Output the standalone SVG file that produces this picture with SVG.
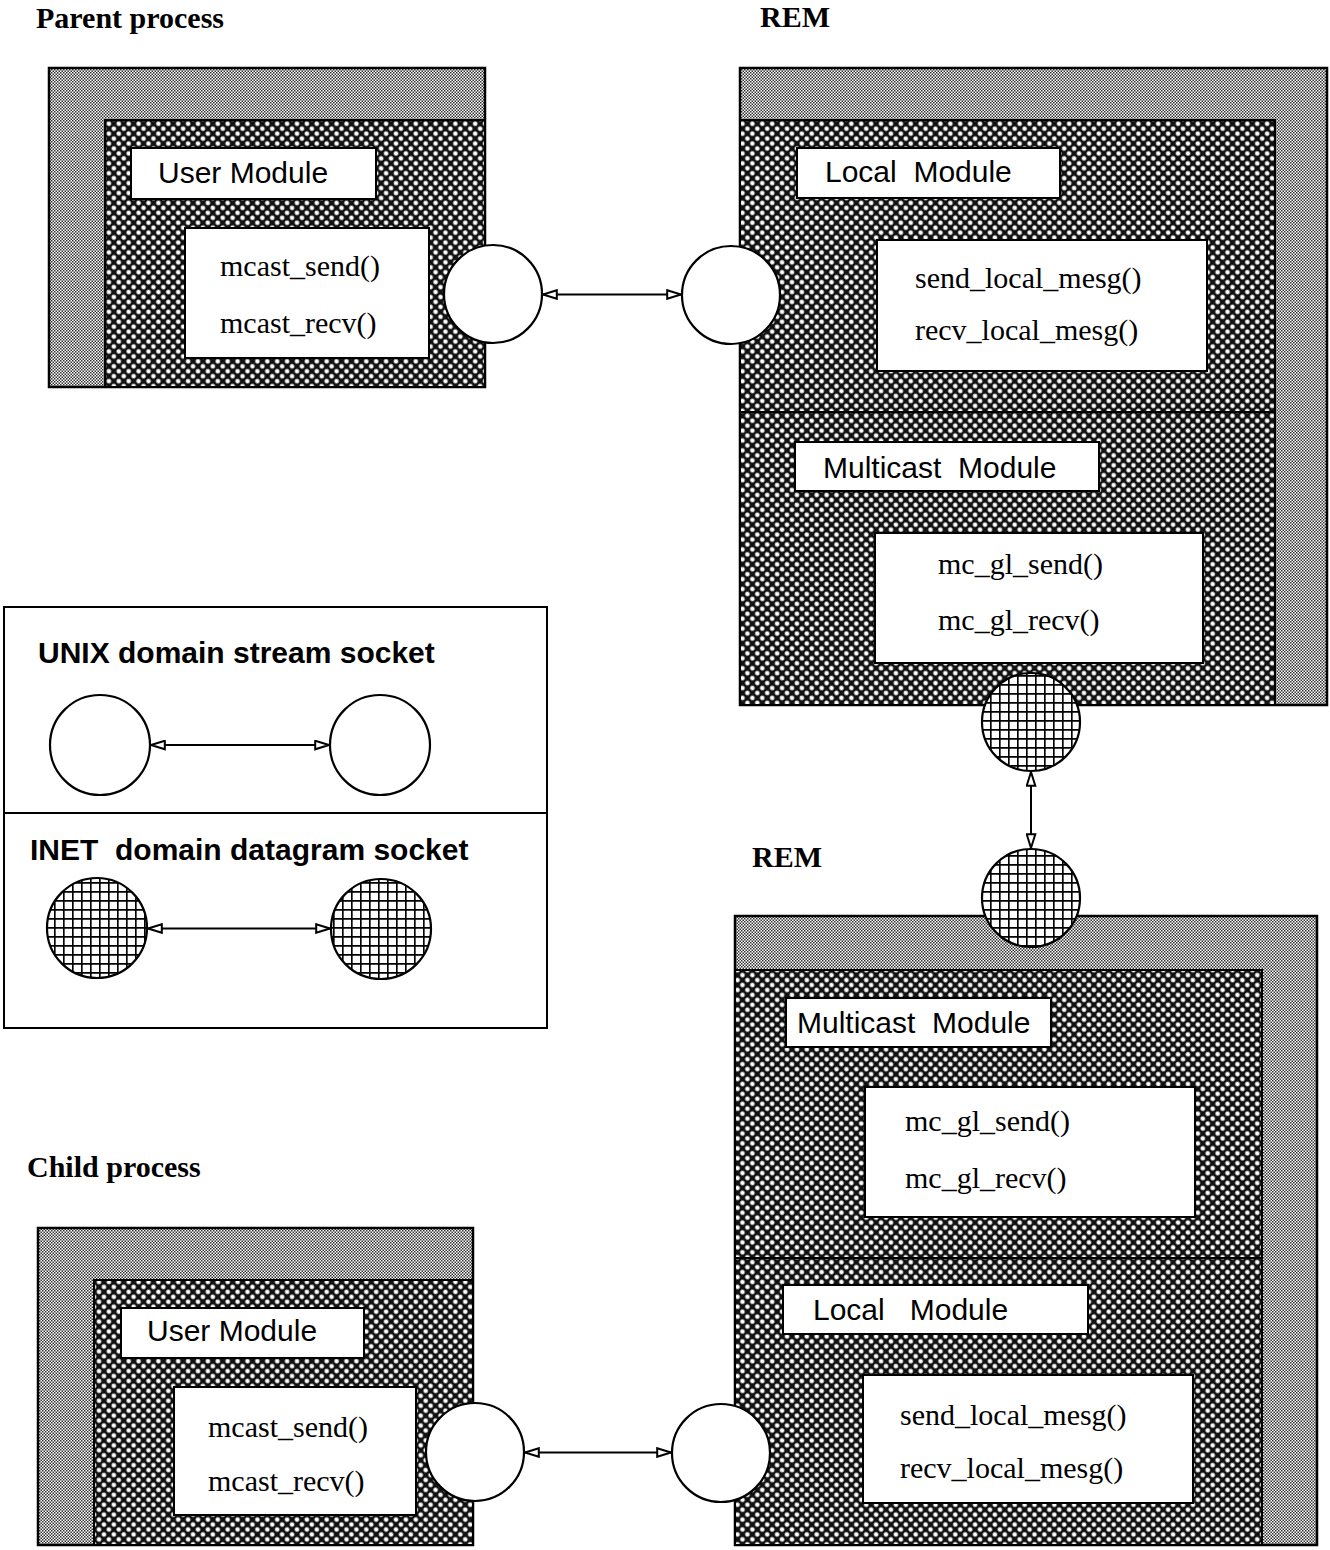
<svg xmlns="http://www.w3.org/2000/svg" width="1330" height="1550" viewBox="0 0 1330 1550">
<style>
.head{font-family:"Liberation Serif",serif;font-weight:bold;font-size:30px;fill:#000}
.lbl{font-family:"Liberation Sans",Arial,sans-serif;font-size:30px;fill:#000}
.fn{font-family:"Liberation Serif",serif;font-size:30px;fill:#000}
.leg{font-family:"Liberation Sans",Arial,sans-serif;font-weight:bold;font-size:30px;fill:#000}
.box{fill:#fff;stroke:#000;stroke-width:2}
.outer{fill:url(#stipple);stroke:#000;stroke-width:2.5}
.inner{fill:url(#cross);stroke:#000;stroke-width:2}
.sock{fill:#fff;stroke:#000;stroke-width:2.2}
.inet{fill:url(#grid);stroke:#000;stroke-width:2.2}
.conn{stroke:#000;stroke-width:2;fill:none;marker-start:url(#ah);marker-end:url(#ah)}
</style>
<defs>
<pattern id="stipple" width="3" height="3" patternUnits="userSpaceOnUse">
<rect width="3" height="3" fill="#fff"/>
<rect width="1.5" height="1.5" fill="#333"/>
<rect x="1.5" y="1.5" width="1.5" height="1.5" fill="#333"/>
</pattern>
<pattern id="cross" width="7" height="7" patternUnits="userSpaceOnUse" patternTransform="rotate(45)">
<rect width="7" height="7" fill="#111"/>
<circle cx="3.5" cy="3.5" r="2.3" fill="#fff"/>
</pattern>
<pattern id="grid" width="9" height="9" patternUnits="userSpaceOnUse">
<rect width="9" height="9" fill="#fff"/>
<path d="M0,0.8 H9 M0.8,0 V9" stroke="#000" stroke-width="1.7"/>
</pattern>
<marker id="ah" viewBox="0 0 16 11" refX="16" refY="5.5" markerWidth="16" markerHeight="11" markerUnits="userSpaceOnUse" orient="auto-start-reverse">
<path d="M1.2,1.2 L15,5.5 L1.2,9.8 Z" fill="#fff" stroke="#000" stroke-width="2"/>
</marker>
</defs>
<rect width="1330" height="1550" fill="#fff"/>

<text class="head" x="36" y="28">Parent process</text>
<text class="head" x="760" y="27">REM</text>
<text class="head" x="752" y="867">REM</text>
<text class="head" x="27" y="1177">Child process</text>

<g id="parent-process">
<rect class="outer" x="49" y="68" width="436" height="319"/>
<rect class="inner" x="105" y="120" width="380" height="267"/>
<g id="parent-user-module">
<rect class="box" x="131" y="148" width="245" height="51"/>
<text class="lbl" x="158" y="183">User Module</text>
</g>
<g id="parent-funcs">
<rect class="box" x="185" y="228" width="244" height="130"/>
<text class="fn" x="220" y="276">mcast_send()</text>
<text class="fn" x="220" y="333">mcast_recv()</text>
</g>
</g>

<g id="rem-top">
<rect class="outer" x="740" y="68" width="587" height="637"/>
<rect class="inner" x="740" y="120" width="535" height="585"/>
<line x1="740" y1="412" x2="1275" y2="412" stroke="#000" stroke-width="2"/>
<g id="rem-top-local">
<rect class="box" x="797" y="148" width="263" height="50"/>
<text class="lbl" x="825" y="182" xml:space="preserve">Local  Module</text>
<rect class="box" x="877" y="240" width="330" height="131"/>
<text class="fn" x="915" y="288">send_local_mesg()</text>
<text class="fn" x="915" y="340">recv_local_mesg()</text>
</g>
<g id="rem-top-multicast">
<rect class="box" x="795" y="442" width="304" height="49"/>
<text class="lbl" x="823" y="478" xml:space="preserve">Multicast  Module</text>
<rect class="box" x="875" y="533" width="328" height="130"/>
<text class="fn" x="938" y="574">mc_gl_send()</text>
<text class="fn" x="938" y="630">mc_gl_recv()</text>
</g>
</g>

<g id="rem-bottom">
<rect class="outer" x="735" y="916" width="582" height="629"/>
<rect class="inner" x="735" y="970" width="527" height="575"/>
<line x1="735" y1="1258" x2="1262" y2="1258" stroke="#000" stroke-width="2"/>
<g id="rem-bottom-multicast">
<rect class="box" x="786" y="998" width="265" height="49"/>
<text class="lbl" x="797" y="1033" xml:space="preserve">Multicast  Module</text>
<rect class="box" x="865" y="1087" width="330" height="130"/>
<text class="fn" x="905" y="1131">mc_gl_send()</text>
<text class="fn" x="905" y="1188">mc_gl_recv()</text>
</g>
<g id="rem-bottom-local">
<rect class="box" x="783" y="1285" width="305" height="49"/>
<text class="lbl" x="813" y="1320" xml:space="preserve">Local   Module</text>
<rect class="box" x="863" y="1375" width="330" height="128"/>
<text class="fn" x="900" y="1425">send_local_mesg()</text>
<text class="fn" x="900" y="1478">recv_local_mesg()</text>
</g>
</g>

<g id="child-process">
<rect class="outer" x="38" y="1228" width="435" height="317"/>
<rect class="inner" x="94" y="1280" width="379" height="265"/>
<g id="child-user-module">
<rect class="box" x="121" y="1308" width="243" height="50"/>
<text class="lbl" x="147" y="1341">User Module</text>
</g>
<g id="child-funcs">
<rect class="box" x="174" y="1387" width="242" height="128"/>
<text class="fn" x="208" y="1437">mcast_send()</text>
<text class="fn" x="208" y="1491">mcast_recv()</text>
</g>
</g>

<g id="legend">
<rect x="4" y="607" width="543" height="421" fill="#fff" stroke="#000" stroke-width="2"/>
<line x1="4" y1="813" x2="547" y2="813" stroke="#000" stroke-width="2"/>
<text class="leg" x="38" y="663">UNIX domain stream socket</text>
<text class="leg" x="30" y="860" xml:space="preserve">INET  domain datagram socket</text>
<circle id="legend-unix-a" class="sock" cx="100" cy="745" r="50"/>
<circle id="legend-unix-b" class="sock" cx="380" cy="745" r="50"/>
<circle id="legend-inet-a" class="inet" cx="97" cy="928" r="50"/>
<circle id="legend-inet-b" class="inet" cx="381" cy="929" r="50"/>
</g>

<g id="sockets">
<circle id="sock-parent" class="sock" cx="493" cy="294" r="49"/>
<circle id="sock-rem-top" class="sock" cx="731" cy="295" r="49"/>
<circle id="sock-inet-top" class="inet" cx="1031" cy="722" r="49"/>
<circle id="sock-inet-bottom" class="inet" cx="1031" cy="898" r="49"/>
<circle id="sock-child" class="sock" cx="475" cy="1452" r="49"/>
<circle id="sock-rem-bottom" class="sock" cx="721" cy="1453" r="49"/>
</g>

<g id="connectors">
<line class="conn" x1="542" y1="294.5" x2="682" y2="294.5"/>
<line class="conn" x1="1031" y1="771" x2="1031" y2="849"/>
<line class="conn" x1="524" y1="1452.5" x2="672" y2="1452.5"/>
<line class="conn" x1="150" y1="745" x2="330" y2="745"/>
<line class="conn" x1="147" y1="928.5" x2="331" y2="928.5"/>
</g>
</svg>
